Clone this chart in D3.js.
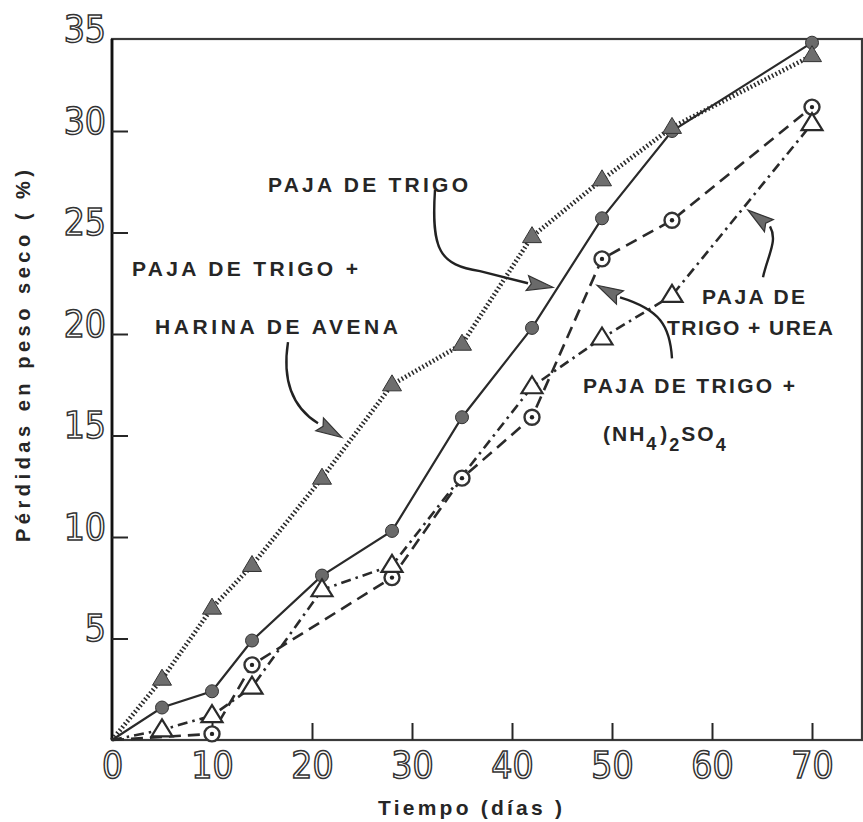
<!DOCTYPE html>
<html>
<head>
<meta charset="utf-8">
<script src="https://cdn.jsdelivr.net/npm/d3@7"></script>
<style>
  html, body { margin: 0; padding: 0; background: #fff; }
  svg { display: block; }
</style>
</head>
<body>
<svg id="chart" width="863" height="822"></svg>
<script>
// Sampling days and dry-weight losses (%) for each treatment
const daysTrigo   = [0, 5, 10, 14, 21, 28, 35, 42, 49, 56, 70];
const trigo       = [0, 1.6, 2.4, 4.9, 8.1, 10.3, 15.9, 20.3, 25.7, 30.0, 34.8];

const daysHarina  = [0, 5, 10, 14, 21, 28, 35, 42, 49, 56, 70];
const harina      = [0, 3.0, 6.5, 8.6, 12.9, 17.5, 19.5, 24.8, 27.6, 30.2, 34.1];

const daysSulfato = [0, 10, 14, 28, 35, 42, 49, 56, 70];
const sulfato     = [0, 0.3, 3.7, 8.0, 12.9, 15.9, 23.7, 25.6, 31.3];

const daysUrea    = [0, 5, 10, 14, 21, 28, 42, 49, 56, 70];
const urea        = [0, 0.5, 1.2, 2.6, 7.4, 8.6, 17.4, 19.8, 21.9, 30.4];

const xTicks = [0, 10, 20, 30, 40, 50, 60, 70];
const yTicks = [5, 10, 15, 20, 25, 30, 35];

const svg = d3.select("#chart");
const ink = "#262626";

// Scales: the hand-drawn vertical axis is slightly compressed above 30 %
const x = d3.scaleLinear().domain([0, 75]).range([112, 862]);
const y = d3.scaleLinear().domain([0, 30, 35]).range([740, 131, 39]);

const P = (d) => [x(d[0]), y(d[1])];

// Frame
svg.append("rect")
  .attr("x", x(0)).attr("y", y(35))
  .attr("width", x(75) - x(0)).attr("height", y(0) - y(35))
  .attr("fill", "none").attr("stroke", "#3a3a3a").attr("stroke-width", 2.2);
svg.append("line")
  .attr("x1", x(0)).attr("x2", x(0)).attr("y1", y(35)).attr("y2", y(0))
  .attr("stroke", "#111").attr("stroke-width", 2.8);

// Axes
const tickFont = "'Liberation Sans Narrow', 'DejaVu Sans Condensed', 'Liberation Sans', sans-serif";

const gx = svg.append("g").attr("transform", `translate(0,${y(0)})`)
  .call(d3.axisBottom(x).tickValues(xTicks).tickSizeInner(-17).tickSizeOuter(0).tickFormat(d3.format("d")));
gx.select(".domain").remove();
gx.selectAll(".tick line").attr("stroke", ink).attr("stroke-width", 2)
  .attr("display", d => d === 0 ? "none" : null);
gx.selectAll(".tick text")
  .attr("y", 38).attr("dy", 0)
  .attr("font-family", tickFont).attr("font-size", 37)
  .attr("fill", "#fff").attr("stroke", "#333").attr("stroke-width", 1.5);

const gy = svg.append("g").attr("transform", `translate(${x(0)},0)`)
  .call(d3.axisLeft(y).tickValues(yTicks).tickSizeInner(-16).tickSizeOuter(0).tickPadding(6).tickFormat(d3.format("d")));
gy.select(".domain").remove();
gy.selectAll(".tick line").attr("stroke", ink).attr("stroke-width", 2)
  .attr("display", d => d === 35 ? "none" : null);
gy.selectAll(".tick text")
  .attr("dy", 2)
  .attr("font-family", tickFont).attr("font-size", 37)
  .attr("fill", "#fff").attr("stroke", "#333").attr("stroke-width", 1.5);

// Axis titles
const titleFont = "'Liberation Sans', 'DejaVu Sans', sans-serif";
svg.append("text")
  .attr("transform", `translate(30,356) rotate(-90)`)
  .attr("text-anchor", "middle")
  .attr("font-family", titleFont).attr("font-size", 20).attr("font-weight", "bold").attr("fill", ink)
  .attr("textLength", 372).attr("lengthAdjust", "spacing")
  .text("Pérdidas en peso seco ( %)");
svg.append("text")
  .attr("x", 378).attr("y", 815)
  .attr("font-family", titleFont).attr("font-size", 21).attr("font-weight", "bold").attr("fill", ink)
  .attr("textLength", 184).attr("lengthAdjust", "spacing")
  .text("Tiempo (días )");

// Series lines
const line = d3.line().x(d => x(d[0])).y(d => y(d[1]));
const zip = (a, b) => a.map((d, i) => [d, b[i]]);

const series = [
  { data: zip(daysTrigo, trigo),     dash: null,          width: 2.2, marker: "dot" },
  { data: zip(daysHarina, harina),   dash: "1.6 2.4",     width: 4.6, marker: "tri" },
  { data: zip(daysSulfato, sulfato), dash: "12 7",        width: 2.6, marker: "ring" },
  { data: zip(daysUrea, urea),       dash: "10 5 2.5 5",  width: 2.6, marker: "otri" }
];

series.forEach(s => {
  svg.append("path")
    .attr("d", line(s.data))
    .attr("fill", "none").attr("stroke", "#2a2a2a")
    .attr("stroke-width", s.width)
    .attr("stroke-dasharray", s.dash);
});

// Markers
const tri = (w, h) => `M0,${-h * 0.62}L${w / 2},${h * 0.38}L${-w / 2},${h * 0.38}Z`;

series.forEach(s => {
  const g = svg.append("g");
  const pts = s.data.filter(d => d[0] > 0);
  const sel = g.selectAll("g").data(pts).join("g")
    .attr("transform", d => `translate(${x(d[0])},${y(d[1])})`);
  if (s.marker === "dot") {
    sel.append("circle").attr("r", 6.5).attr("fill", "#6a6a6a").attr("stroke", "#333").attr("stroke-width", 1);
  } else if (s.marker === "tri") {
    sel.append("path").attr("d", tri(19, 16)).attr("fill", "#6e6e6e").attr("stroke", "#333").attr("stroke-width", 1);
  } else if (s.marker === "ring") {
    sel.append("circle").attr("r", 7.5).attr("fill", "#fff").attr("stroke", "#333").attr("stroke-width", 2.4);
    sel.append("circle").attr("r", 2.2).attr("fill", "#222");
  } else {
    sel.append("path").attr("d", tri(21, 17)).attr("fill", "#fff").attr("stroke", "#2a2a2a").attr("stroke-width", 2.2);
  }
});

// Annotation labels (positions in data units)
const labels = [
  { text: "PAJA DE TRIGO",   at: [15.6, 27.0], len: 200 },
  { text: "PAJA DE TRIGO +", at: [2.0, 22.86], len: 226 },
  { text: "HARINA DE AVENA", at: [4.3, 20.0],  len: 243 },
  { text: "PAJA DE TRIGO +", at: [47.1, 17.09], len: 212 },
  { text: "PAJA DE",         at: [59.0, 21.48], len: 103 },
  { text: "TRIGO + UREA",    at: [55.5, 19.95], len: 166 }
];
labels.forEach(l => {
  const [px, py] = P(l.at);
  svg.append("text")
    .attr("x", px).attr("y", py)
    .attr("font-family", titleFont).attr("font-size", 21).attr("font-weight", "bold").attr("fill", ink)
    .attr("textLength", l.len).attr("lengthAdjust", "spacing")
    .text(l.text);
});

// (NH4)2SO4 with subscripts
{
  const [px, py] = P([49.1, 14.73]);
  const t = svg.append("text")
    .attr("x", px).attr("y", py)
    .attr("font-family", titleFont).attr("font-size", 21).attr("font-weight", "bold").attr("fill", ink)
    .attr("letter-spacing", 2);
  t.append("tspan").text("(NH");
  t.append("tspan").attr("dy", 9).attr("font-size", 18).text("4");
  t.append("tspan").attr("dy", -9).attr("dx", 2).text(")");
  t.append("tspan").attr("dy", 10).attr("font-size", 18).text("2");
  t.append("tspan").attr("dy", -10).text("SO");
  t.append("tspan").attr("dy", 10).attr("font-size", 18).text("4");
}

// Curved pointer arrows: start, two control points, arrowhead base, tip
const arrows = [
  { pts: [[17.6, 19.6], [17.0, 17.7], [18.0, 16.4], [20.6, 15.6]], tip: [23.0, 14.9] },
  { pts: [[32.3, 27.1], [31.9, 24.1], [32.8, 23.4], [36.8, 23.1]], extra: [41.6, 22.5], tip: [44.1, 22.3] },
  { pts: [[56.0, 18.8], [55.8, 20.4], [54.8, 21.2], [50.8, 21.8]], tip: [48.5, 22.4] },
  { pts: [[65.1, 22.8], [65.6, 23.9], [66.6, 24.6], [65.8, 25.3]], tip: [63.6, 26.1] }
];
arrows.forEach(a => {
  const p = a.pts.map(P);
  const path = d3.path();
  path.moveTo(p[0][0], p[0][1]);
  path.bezierCurveTo(p[1][0], p[1][1], p[2][0], p[2][1], p[3][0], p[3][1]);
  let base = p[3];
  if (a.extra) { base = P(a.extra); path.lineTo(base[0], base[1]); }
  svg.append("path").attr("d", path.toString())
    .attr("fill", "none").attr("stroke", "#222").attr("stroke-width", 2.4);
  const tip = P(a.tip);
  const dx = tip[0] - base[0], dy = tip[1] - base[1];
  const L = Math.hypot(dx, dy), ux = dx / L, uy = dy / L;
  const len = 26, hw = 7.5;
  const bx = tip[0] - ux * len, by = tip[1] - uy * len;
  const head = [
    [tip[0], tip[1]],
    [bx - uy * hw, by + ux * hw],
    [bx + ux * 4, by + uy * 4],
    [bx + uy * hw, by - ux * hw]
  ];
  svg.append("path").attr("d", "M" + head.map(q => q.join(",")).join("L") + "Z")
    .attr("fill", "#6a6a6a").attr("stroke", "#333").attr("stroke-width", 1.2);
});
</script>
</body>
</html>
